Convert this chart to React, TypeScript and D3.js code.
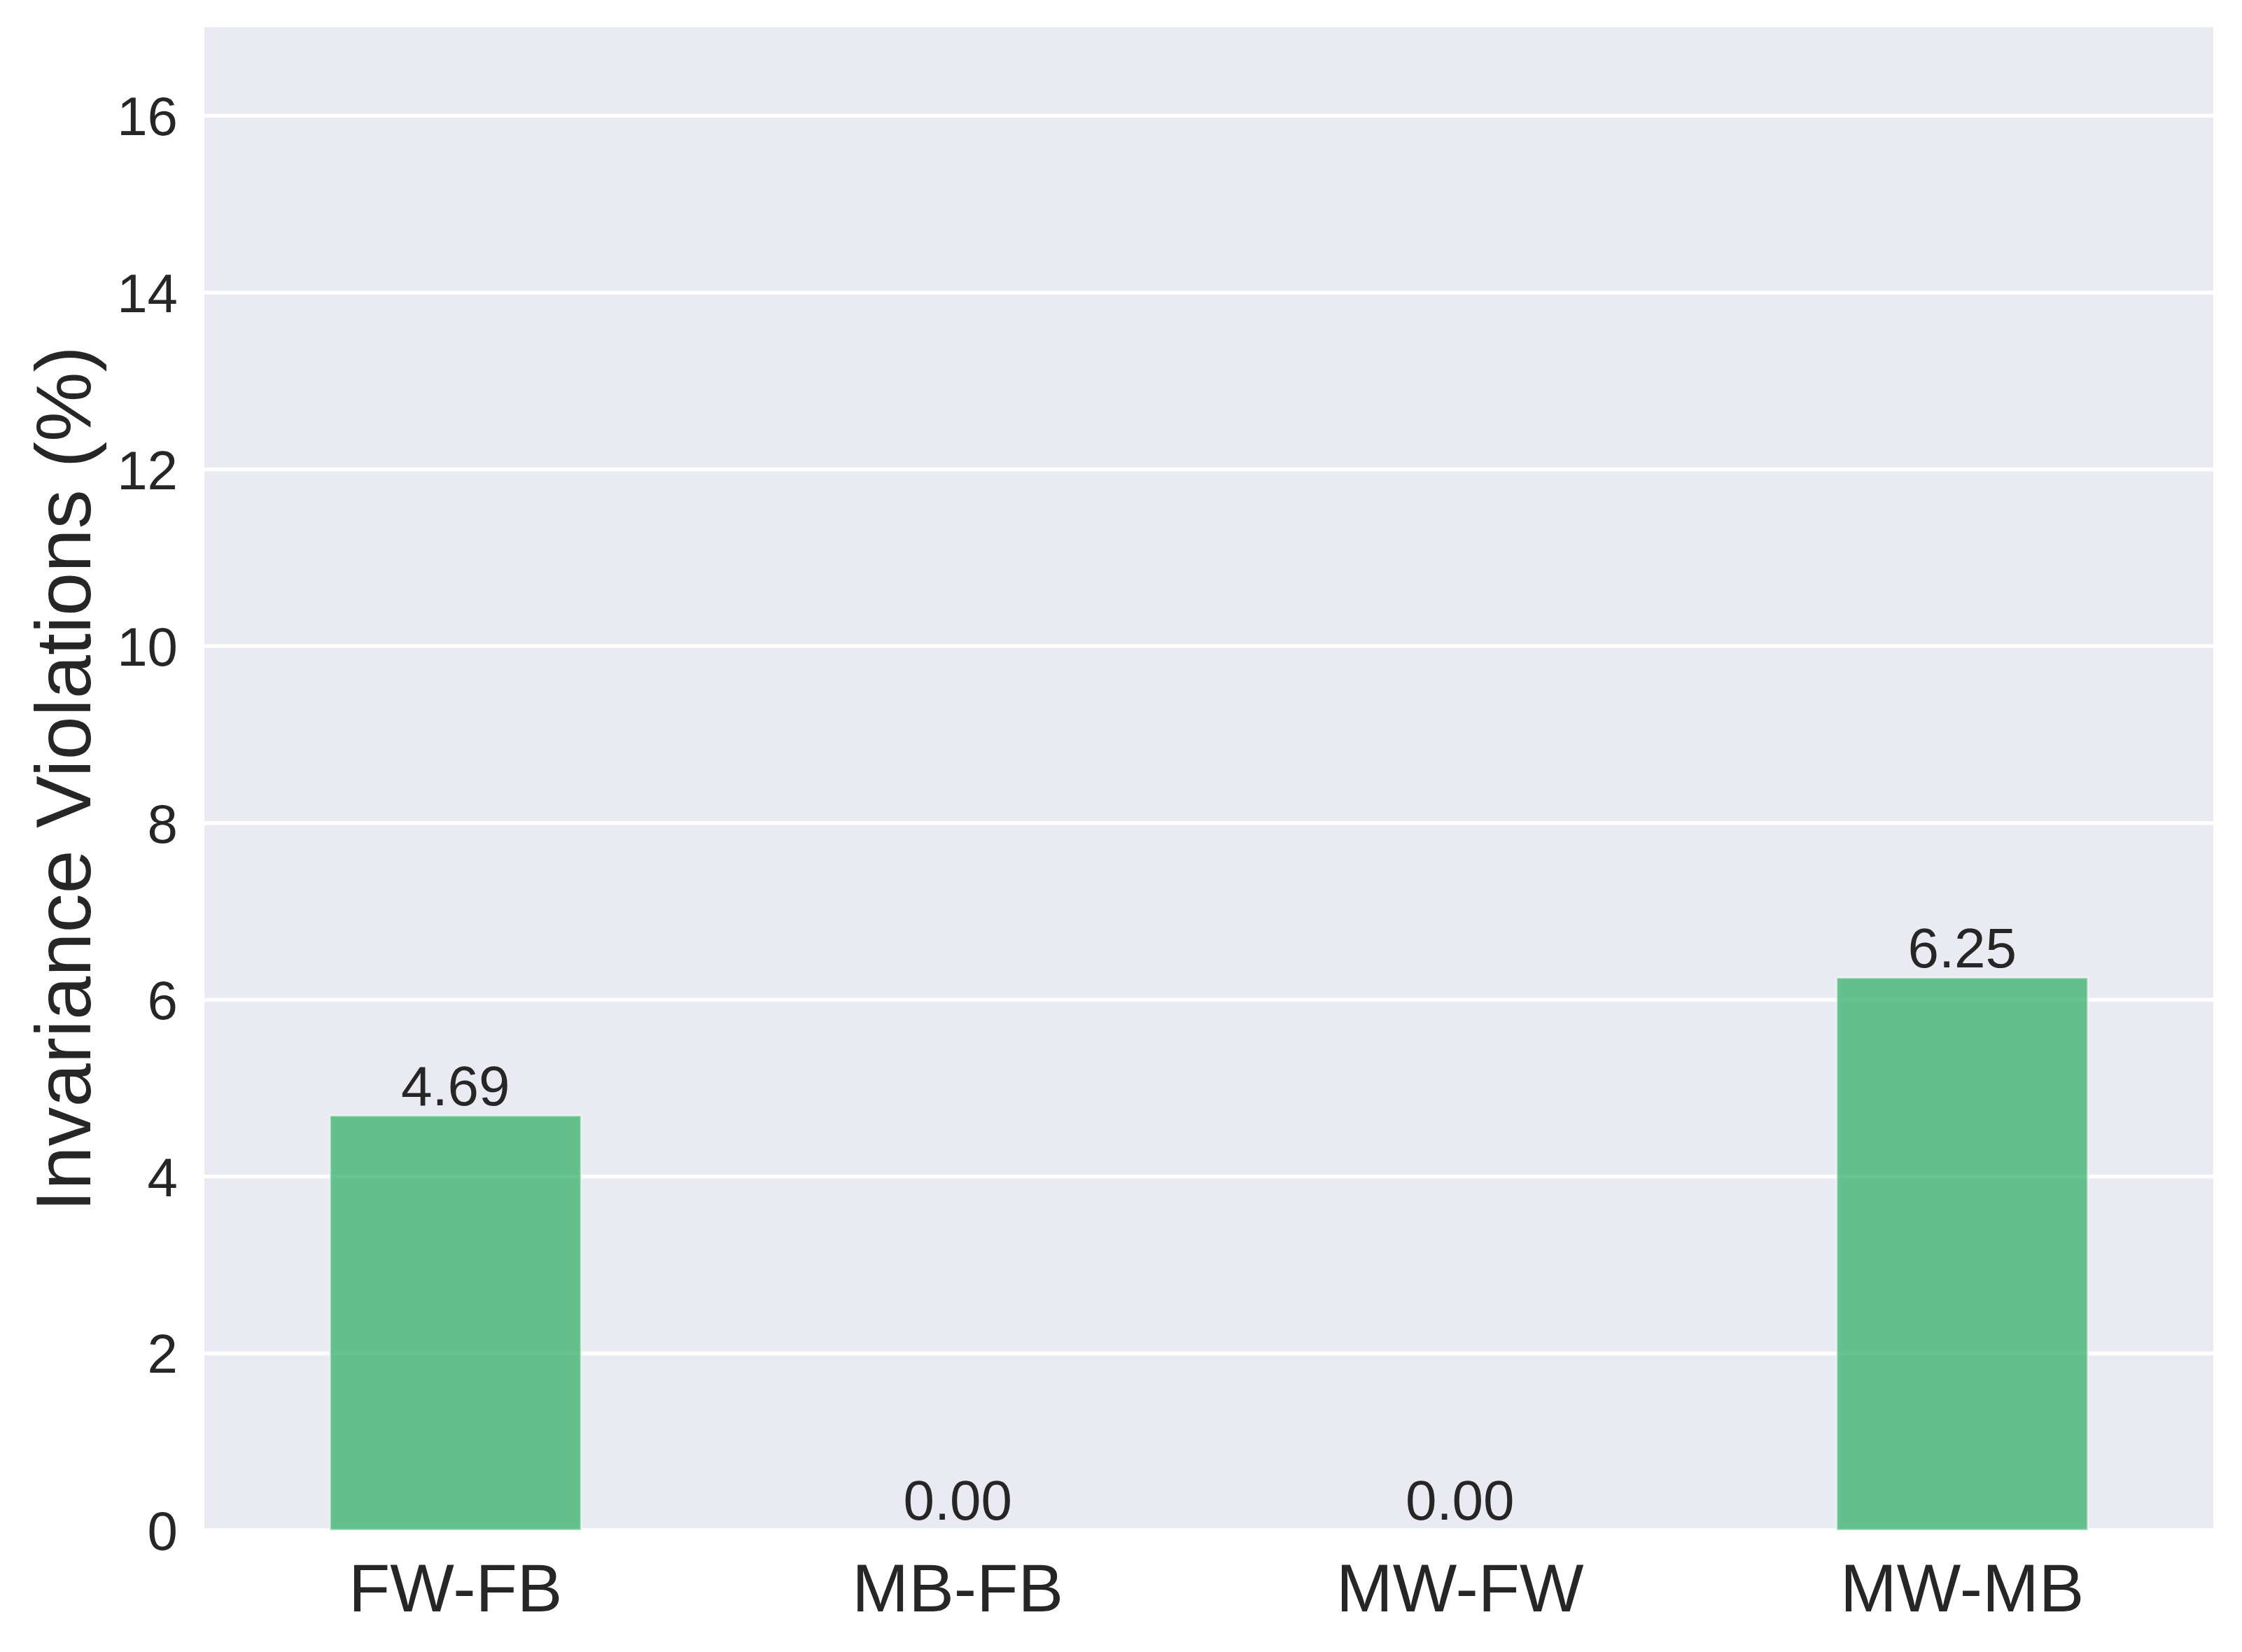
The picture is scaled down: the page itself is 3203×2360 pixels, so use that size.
import React from "react";
import * as d3 from "d3";

const categories: string[] = ["FW-FB", "MB-FB", "MW-FW", "MW-MB"];
const violations: number[] = [4.69, 0.0, 0.0, 6.25];
const yTicks: number[] = [0, 2, 4, 6, 8, 10, 12, 14, 16];
const yLabel = "Invariance Violations (%)";

const W = 3203;
const H = 2360;
const M = { left: 292, right: 41, top: 39, bottom: 174 };
const FONT = "'Liberation Sans', Arial, sans-serif";
const TXT = "#262626";

export default function App() {
  const x = d3
    .scaleLinear()
    .domain([-0.5, categories.length - 0.5])
    .range([M.left, W - M.right]);
  const y = d3.scaleLinear().domain([0, 17]).range([H - M.bottom, M.top]);
  const barW = 0.5;

  return (
    <svg
      width={W}
      height={H}
      style={{ position: "absolute", left: 0, top: 0, background: "#fff" }}
      fontFamily={FONT}
    >
      <rect
        x={M.left}
        y={M.top}
        width={W - M.left - M.right}
        height={H - M.top - M.bottom}
        fill="#EAEAF2"
      />
      {yTicks.map((t) => (
        <g key={t}>
          <line
            x1={M.left}
            x2={W - M.right}
            y1={y(t)}
            y2={y(t)}
            stroke="#fff"
            strokeWidth={5.5}
          />
          <text
            x={M.left - 38}
            y={y(t)}
            dy="0.36em"
            textAnchor="end"
            fontSize={78}
            fill={TXT}
          >
            {t}
          </text>
        </g>
      ))}
      {categories.map((c, i) => (
        <g key={c}>
          <rect
            x={x(i - barW / 2)}
            y={y(violations[i])}
            width={x(i + barW / 2) - x(i - barW / 2)}
            height={y(0) - y(violations[i])}
            fill="#3cb371"
            fillOpacity={0.78}
            stroke="#ffffff"
            strokeOpacity={0.5}
            strokeWidth={3}
          />
          <text
            x={x(i)}
            y={y(violations[i]) - 15}
            textAnchor="middle"
            fontSize={80}
            fill={TXT}
          >
            {violations[i].toFixed(2)}
          </text>
          <text
            x={x(i)}
            y={2302}
            textAnchor="middle"
            fontSize={97}
            fill={TXT}
          >
            {c}
          </text>
        </g>
      ))}
      <text
        transform={`translate(${129},${(M.top + H - M.bottom) / 2}) rotate(-90)`}
        textAnchor="middle"
        fontSize={112}
        fill={TXT}
      >
        {yLabel}
      </text>
    </svg>
  );
}
